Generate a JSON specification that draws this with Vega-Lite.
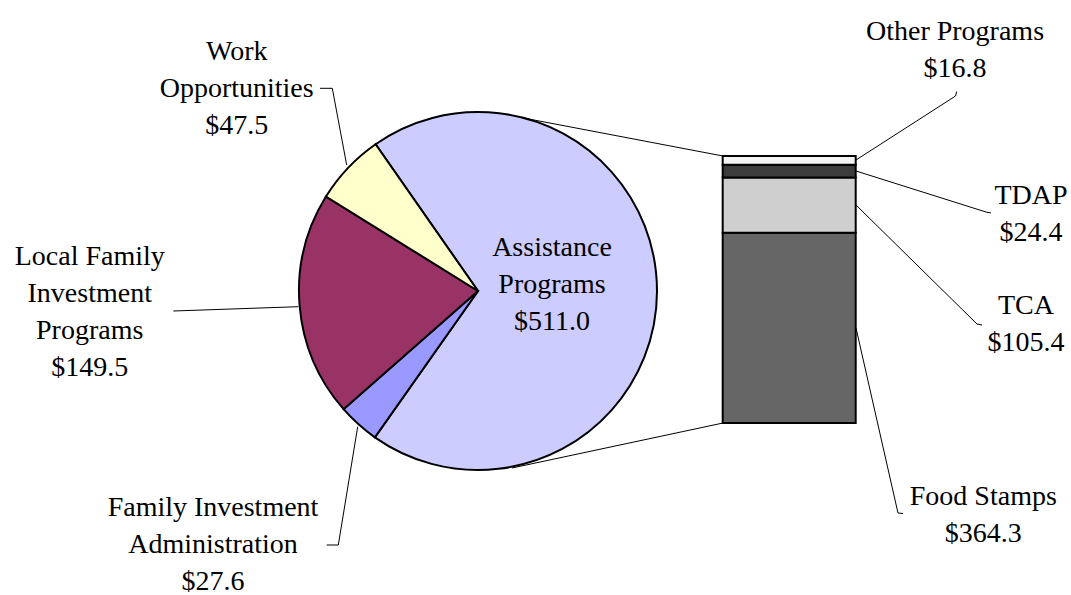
{
  "$schema": "https://vega.github.io/schema/vega-lite/v6.json",
  "width": 1071,
  "height": 595,
  "padding": 0,
  "autosize": "none",
  "background": "white",
  "config": {"view": {"stroke": null}},
  "datasets": {
    "pie": [
      {"name": "Assistance Programs", "value": 511.0, "ord": 1},
      {"name": "Family Investment Administration", "value": 27.6, "ord": 2},
      {"name": "Local Family Investment Programs", "value": 149.5, "ord": 3},
      {"name": "Work Opportunities", "value": 47.5, "ord": 4}
    ],
    "bar": [
      {"name": "Food Stamps", "value": 364.3, "ord": 1},
      {"name": "TCA", "value": 105.4, "ord": 2},
      {"name": "TDAP", "value": 24.4, "ord": 3},
      {"name": "Other Programs", "value": 16.8, "ord": 4}
    ],
    "labels": [
      {"label": "Work\nOpportunities\n$47.5", "x": 236.7, "y": 60},
      {"label": "Local Family\nInvestment\nPrograms\n$149.5", "x": 89.7, "y": 265},
      {"label": "Family Investment\nAdministration\n$27.6", "x": 213, "y": 516},
      {"label": "Assistance\nPrograms\n$511.0", "x": 552, "y": 255.7},
      {"label": "Other Programs\n$16.8", "x": 955, "y": 39.5},
      {"label": "TDAP\n$24.4", "x": 1031, "y": 204},
      {"label": "TCA\n$105.4", "x": 1026, "y": 314},
      {"label": "Food Stamps\n$364.3", "x": 983.3, "y": 505}
    ],
    "leaders": [
      {"id": "w", "seq": 1, "x": 320, "y": 88.3},
      {"id": "w", "seq": 2, "x": 332.3, "y": 88.3},
      {"id": "w", "seq": 3, "x": 346.7, "y": 165},
      {"id": "l", "seq": 1, "x": 173.3, "y": 311},
      {"id": "l", "seq": 2, "x": 298.3, "y": 306.7},
      {"id": "f", "seq": 1, "x": 326.7, "y": 545},
      {"id": "f", "seq": 2, "x": 338.3, "y": 545},
      {"id": "f", "seq": 3, "x": 357.7, "y": 426.7},
      {"id": "o", "seq": 1, "x": 956.7, "y": 91.5},
      {"id": "o", "seq": 2, "x": 955.5, "y": 96},
      {"id": "o", "seq": 3, "x": 856, "y": 160},
      {"id": "tdap", "seq": 1, "x": 856, "y": 171},
      {"id": "tdap", "seq": 2, "x": 986, "y": 212},
      {"id": "tdap", "seq": 3, "x": 991, "y": 213},
      {"id": "tca", "seq": 1, "x": 856, "y": 205},
      {"id": "tca", "seq": 2, "x": 977, "y": 324},
      {"id": "tca", "seq": 3, "x": 982, "y": 325},
      {"id": "food", "seq": 1, "x": 856, "y": 328},
      {"id": "food", "seq": 2, "x": 898, "y": 513},
      {"id": "food", "seq": 3, "x": 903, "y": 513.5},
      {"id": "c1", "seq": 1, "x": 513, "y": 116},
      {"id": "c1", "seq": 2, "x": 723, "y": 156},
      {"id": "c2", "seq": 1, "x": 512, "y": 468},
      {"id": "c2", "seq": 2, "x": 723, "y": 423}
    ]
  },
  "resolve": {"scale": {"y": "independent"}},
  "layer": [
    {
      "data": {"name": "leaders"},
      "mark": {"type": "line", "stroke": "black", "strokeWidth": 1},
      "encoding": {
        "x": {"field": "x", "type": "quantitative", "scale": {"domain": [0, 1071], "nice": false, "zero": false}, "axis": null},
        "y": {"field": "y", "type": "quantitative", "scale": {"domain": [0, 595], "reverse": true, "nice": false, "zero": false}, "axis": null},
        "detail": {"field": "id"},
        "order": {"field": "seq"}
      }
    },
    {
      "data": {"name": "pie"},
      "mark": {"type": "arc", "outerRadius": 179, "stroke": "black", "strokeWidth": 2},
      "encoding": {
        "x": {"datum": 478, "type": "quantitative", "axis": null},
        "y": {"datum": 291, "type": "quantitative", "scale": {"domain": [0, 595], "reverse": true, "nice": false, "zero": false}, "axis": null},
        "theta": {"field": "value", "type": "quantitative", "stack": true, "scale": {"range": [5.674, 11.9572]}},
        "order": {"field": "ord"},
        "color": {
          "field": "name", "type": "nominal", "legend": null,
          "scale": {
            "domain": ["Assistance Programs", "Family Investment Administration", "Local Family Investment Programs", "Work Opportunities", "Food Stamps", "TCA", "TDAP", "Other Programs"],
            "range": ["#CCCCFF", "#9999FF", "#993366", "#FFFFCC", "#666666", "#CFCFCF", "#3C3C3C", "#F4F4F4"]
          }
        }
      }
    },
    {
      "data": {"name": "bar"},
      "transform": [
        {"stack": "value", "groupby": [], "sort": [{"field": "ord", "order": "ascending"}], "as": ["v0", "v1"]}
      ],
      "mark": {"type": "rect", "stroke": "black", "strokeWidth": 2},
      "encoding": {
        "x": {"datum": 722.7, "type": "quantitative", "axis": null},
        "x2": {"datum": 855.7},
        "y": {"field": "v0", "type": "quantitative", "scale": {"domain": [0, 511], "range": [423, 156], "nice": false, "zero": true}, "axis": null},
        "y2": {"field": "v1"},
        "color": {
          "field": "name", "type": "nominal", "legend": null,
          "scale": {
            "domain": ["Assistance Programs", "Family Investment Administration", "Local Family Investment Programs", "Work Opportunities", "Food Stamps", "TCA", "TDAP", "Other Programs"],
            "range": ["#CCCCFF", "#9999FF", "#993366", "#FFFFCC", "#666666", "#CFCFCF", "#3C3C3C", "#F4F4F4"]
          }
        }
      }
    },
    {
      "data": {"name": "labels"},
      "mark": {"type": "text", "font": "Liberation Serif", "fontSize": 28, "lineHeight": 37, "lineBreak": "\n", "align": "center", "baseline": "alphabetic", "color": "black"},
      "encoding": {
        "x": {"field": "x", "type": "quantitative", "axis": null},
        "y": {"field": "y", "type": "quantitative", "scale": {"domain": [0, 595], "reverse": true, "nice": false, "zero": false}, "axis": null},
        "text": {"field": "label"}
      }
    }
  ]
}
